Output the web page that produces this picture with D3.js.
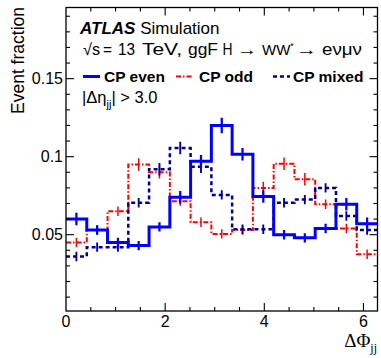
<!DOCTYPE html>
<html>
<head>
<meta charset="utf-8">
<script src="https://cdn.jsdelivr.net/npm/d3@7"></script>
<style>
  body { margin: 0; background: #fff; }
  text { font-family: "Liberation Sans", Arial, sans-serif; fill: #000; }
</style>
</head>
<body>
<script>
// 15 bins over [0, 2pi]
const nBins = 15;
const cpEven  = [0.060, 0.053, 0.045, 0.043, 0.055, 0.074, 0.097, 0.120, 0.1015, 0.0745, 0.050, 0.048, 0.054, 0.0695, 0.057];
const cpOdd   = [0.045, 0.053, 0.065, 0.095, 0.090, 0.0715, 0.058, 0.0505, 0.053, 0.080, 0.0955, 0.0855, 0.0695, 0.054, 0.0375];
const cpMixed = [0.036, 0.042, 0.042, 0.0705, 0.092, 0.1055, 0.0935, 0.0755, 0.0535, 0.0535, 0.0705, 0.0725, 0.080, 0.062, 0.053];
const errEven  = [0.004, 0.003, 0.003, 0.003, 0.003, 0.004, 0.004, 0.005, 0.004, 0.004, 0.003, 0.003, 0.003, 0.004, 0.004];
const errOdd   = [0.003, 0.003, 0.003, 0.004, 0.004, 0.003, 0.003, 0.003, 0.003, 0.004, 0.004, 0.004, 0.003, 0.003, 0.003];
const errMixed = [0.003, 0.003, 0.003, 0.003, 0.004, 0.004, 0.004, 0.003, 0.003, 0.003, 0.003, 0.003, 0.003, 0.003, 0.003];
const yTicks = [0.05, 0.1, 0.15];
const yTickLabels = ["0.05", "0.1", "0.15"];
const xTicks = [0, 2, 4, 6];

const width = 381, height = 358;
const frame = {left: 66, right: 377.5, top: 7.5, bottom: 311};

const x = d3.scaleLinear().domain([0, 2 * Math.PI]).range([frame.left, frame.right]);
const y = d3.scaleLinear().domain([0.0011, 0.1956]).range([frame.bottom, frame.top]);

const binW = 2 * Math.PI / nBins;
const edges = d3.range(nBins + 1).map(i => i * binW);

const svg = d3.select('body').append('svg')
    .attr('width', width)
    .attr('height', height);

svg.append('clipPath').attr('id', 'clip')
  .append('rect')
    .attr('x', frame.left).attr('y', frame.top)
    .attr('width', frame.right - frame.left)
    .attr('height', frame.bottom - frame.top);

const even  = {name: 'CP even',  vals: cpEven,  err: errEven,  color: '#0000ff', width: 3,   dash: null};
const odd   = {name: 'CP odd',   vals: cpOdd,   err: errOdd,   color: '#ff0000', width: 2,   dash: '5,2,1.5,2'};
const mixed = {name: 'CP mixed', vals: cpMixed, err: errMixed, color: '#000099', width: 2.5, dash: '4,3'};

const step = d3.line()
    .x(d => x(d[0]))
    .y(d => y(d[1]))
    .curve(d3.curveStepAfter);

const plot = svg.append('g').attr('clip-path', 'url(#clip)');

// draw order: odd, mixed, even on top
[odd, mixed, even].forEach(s => {
  const pts = edges.map((e, i) => [e, s.vals[Math.min(i, nBins - 1)]]);
  plot.append('path')
      .datum(pts)
      .attr('d', step)
      .attr('fill', 'none')
      .attr('stroke', s.color)
      .attr('stroke-width', s.width)
      .attr('stroke-dasharray', s.dash);

  plot.selectAll(null)
    .data(s.vals)
    .enter().append('line')
      .attr('x1', (d, i) => x(edges[i] + binW / 2))
      .attr('x2', (d, i) => x(edges[i] + binW / 2))
      .attr('y1', (d, i) => y(d - s.err[i]))
      .attr('y2', (d, i) => y(d + s.err[i]))
      .attr('stroke', s.color)
      .attr('stroke-width', s.width * 0.75);
});

// frame
svg.append('rect')
    .attr('x', frame.left).attr('y', frame.top)
    .attr('width', frame.right - frame.left)
    .attr('height', frame.bottom - frame.top)
    .attr('fill', 'none')
    .attr('stroke', '#000')
    .attr('stroke-width', 1.3);

// ticks (inward, on all four sides)
const ticks = svg.append('g').attr('stroke', '#000').attr('stroke-width', 1.1);
d3.range(0.01, 0.196, 0.01).forEach(v => {
  const major = yTicks.some(t => Math.abs(t - v) < 1e-6);
  const len = major ? 8 : 4;
  ticks.append('line').attr('x1', frame.left).attr('x2', frame.left + len).attr('y1', y(v)).attr('y2', y(v));
  ticks.append('line').attr('x1', frame.right).attr('x2', frame.right - len).attr('y1', y(v)).attr('y2', y(v));
});
d3.range(0.5, 6.3, 0.5).forEach(v => {
  const major = xTicks.some(t => Math.abs(t - v) < 1e-6);
  const len = major ? 8 : 4;
  ticks.append('line').attr('y1', frame.bottom).attr('y2', frame.bottom - len).attr('x1', x(v)).attr('x2', x(v));
  ticks.append('line').attr('y1', frame.top).attr('y2', frame.top + len).attr('x1', x(v)).attr('x2', x(v));
});

// tick labels
svg.selectAll('.ylab')
  .data(yTicks)
  .enter().append('text')
    .attr('x', frame.left - 3)
    .attr('y', d => y(d) + 5.5)
    .attr('text-anchor', 'end')
    .attr('font-size', 16)
    .text((d, i) => yTickLabels[i]);

svg.selectAll('.xlab')
  .data(xTicks)
  .enter().append('text')
    .attr('x', d => x(d))
    .attr('y', 327)
    .attr('text-anchor', 'middle')
    .attr('font-size', 16)
    .text(d => d);

// axis titles
svg.append('text')
    .attr('transform', 'translate(24,7) rotate(-90)')
    .attr('text-anchor', 'end')
    .attr('font-size', 17.5)
    .text('Event fraction');

const xt = svg.append('text')
    .attr('x', 377)
    .attr('y', 347)
    .attr('text-anchor', 'end')
    .style('font-family', '"Liberation Serif", "Times New Roman", serif')
    .attr('font-size', 19);
xt.append('tspan').text('ΔΦ');
xt.append('tspan').attr('dy', 5).attr('font-size', 12).text('jj');

// ATLAS label
const atl = svg.append('text').attr('x', 80).attr('y', 34).attr('font-size', 17);
atl.append('tspan').attr('font-weight', 'bold').attr('font-style', 'italic').text('ATLAS');
atl.append('tspan').text(' Simulation');

// process line, pieces placed like ROOT's TLatex spacing
const procPieces = [
  {t: '√s',   x: 83,  w: 17},
  {t: '=',    x: 103, w: 9},
  {t: '13',   x: 118, w: 17},
  {t: 'TeV,', x: 142, w: 40},
  {t: 'ggF',  x: 188, w: 30},
  {t: 'H',    x: 222.5, w: 10},
  {t: '→',    x: 237, w: 20},
  {t: '→',    x: 296, w: 21},
  {t: 'eνμν', x: 322, w: 40}
];
const proc = svg.append('g').attr('font-size', 16.5);
procPieces.forEach(p => {
  proc.append('text')
      .attr('x', p.x).attr('y', 55)
      .attr('textLength', p.w)
      .attr('lengthAdjust', 'spacingAndGlyphs')
      .text(p.t);
});
const ww = proc.append('text').attr('x', 262).attr('y', 55).attr('font-size', 15);
ww.append('tspan').text('WW');
ww.append('tspan').attr('dy', -6).attr('font-size', 9).text('*');

// legend
[even, odd, mixed].forEach((s, i) => {
  const lx = [83, 176, 273][i];
  const tx = [104, 199, 293][i];
  svg.append('line')
      .attr('x1', lx).attr('x2', lx + 17)
      .attr('y1', 76.5).attr('y2', 76.5)
      .attr('stroke', s.color)
      .attr('stroke-width', s.width)
      .attr('stroke-dasharray', s.dash);
  svg.append('text')
      .attr('x', tx).attr('y', 82)
      .attr('font-size', 15.5)
      .attr('font-weight', 'bold')
      .text(s.name);
});

const eta = svg.append('text').attr('x', 82).attr('y', 103).attr('font-size', 16.5);
eta.append('tspan').text('|Δη');
eta.append('tspan').attr('dy', 5).attr('font-size', 11).text('jj');
eta.append('tspan').attr('dy', -5).text('| > 3.0');
</script>
</body>
</html>
